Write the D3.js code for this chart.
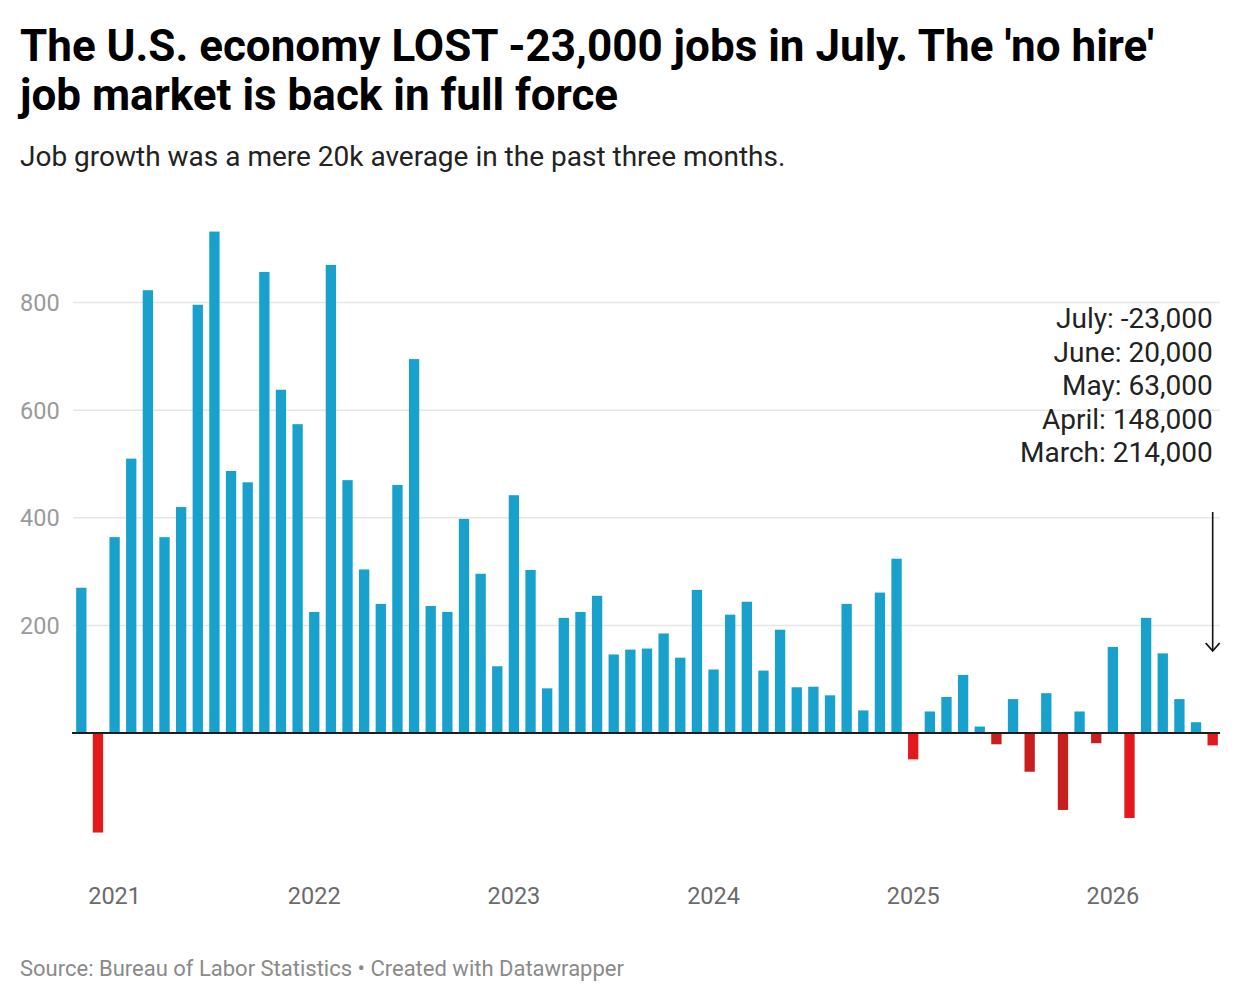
<!DOCTYPE html>
<html>
<head>
<meta charset="utf-8">
<script src="https://cdn.jsdelivr.net/npm/d3@7"></script>
<style>
  body { margin: 0; background: #fff; font-family: Roboto, "Noto Sans", sans-serif; }
  svg text { font-family: Roboto, "Noto Sans", sans-serif; }
</style>
</head>
<body>
<div id="chart"></div>
<script>
// monthly change in payrolls, thousands (Nov 2020 .. Jul 2026)
var months = [
    "2020-11", "2020-12",
    "2021-01", "2021-02", "2021-03", "2021-04", "2021-05", "2021-06",
    "2021-07", "2021-08", "2021-09", "2021-10", "2021-11", "2021-12",
    "2022-01", "2022-02", "2022-03", "2022-04", "2022-05", "2022-06",
    "2022-07", "2022-08", "2022-09", "2022-10", "2022-11", "2022-12",
    "2023-01", "2023-02", "2023-03", "2023-04", "2023-05", "2023-06",
    "2023-07", "2023-08", "2023-09", "2023-10", "2023-11", "2023-12",
    "2024-01", "2024-02", "2024-03", "2024-04", "2024-05", "2024-06",
    "2024-07", "2024-08", "2024-09", "2024-10", "2024-11", "2024-12",
    "2025-01", "2025-02", "2025-03", "2025-04", "2025-05", "2025-06",
    "2025-07", "2025-08", "2025-09", "2025-10", "2025-11", "2025-12",
    "2026-01", "2026-02", "2026-03", "2026-04", "2026-05", "2026-06",
    "2026-07"
];

var jobs = [
    270, -185,
    364, 510, 823, 364, 420, 796, 932, 487, 466, 857, 638, 574,
    225, 870, 470, 304, 240, 461, 695, 236, 225, 398, 296, 124,
    442, 303, 83, 214, 225, 255, 146, 155, 157, 185, 140, 266,
    118, 220, 244, 116, 192, 85, 86, 70, 240, 42, 261, 324,
    -49, 40, 67, 108, 12, -21, 63, -72, 74, -143, 40, -19,
    160, -158, 214, 148, 63, 20, -23
];

// months drawn in the darker red
var darkMonths = ["2025-06", "2025-08", "2025-10", "2025-12"];

var yTicks = [200, 400, 600, 800];
var yearTicks = ["2021-01", "2022-01", "2023-01", "2024-01", "2025-01", "2026-01"];

var notes = [
    "July: -23,000",
    "June: 20,000",
    "May: 63,000",
    "April: 148,000",
    "March: 214,000"
];

var data = months.map(function (m, i) { return {month: m, value: jobs[i]}; });

var width = 1240,
    height = 1002,
    left = 73,
    right = 1221;

var svg = d3.select('#chart')
    .append('svg')
    .attr('width', width)
    .attr('height', height);

// title block
svg.append('text')
    .attr('x', 20).attr('y', 61)
    .attr('font-size', 44).attr('font-weight', 700).attr('fill', '#000')
    .text("The U.S. economy LOST -23,000 jobs in July. The 'no hire'");
svg.append('text')
    .attr('x', 20).attr('y', 110)
    .attr('font-size', 44).attr('font-weight', 700).attr('fill', '#000')
    .text("job market is back in full force");
svg.append('text')
    .attr('x', 20).attr('y', 166)
    .attr('font-size', 28).attr('fill', '#222')
    .text("Job growth was a mere 20k average in the past three months.");

var x = d3.scaleBand()
    .domain(months)
    .range([left, right])
    .paddingInner(0.38)
    .paddingOuter(0.19);

var y = d3.scaleLinear()
    .domain([-200, 1000])
    .range([840.6, 195]);

// gridlines + y labels
var grid = svg.append('g');
grid.selectAll('line')
    .data(yTicks)
    .enter()
    .append('line')
    .attr('x1', left)
    .attr('x2', right - 1)
    .attr('y1', function (d) { return y(d); })
    .attr('y2', function (d) { return y(d); })
    .attr('stroke', '#e6e6e6')
    .attr('stroke-width', 1.5);
grid.selectAll('text')
    .data(yTicks)
    .enter()
    .append('text')
    .attr('x', 20)
    .attr('y', function (d) { return y(d) + 8.5; })
    .attr('font-size', 23.5)
    .attr('fill', '#9a9a9a')
    .text(function (d) { return d; });

// bars
svg.append('g')
    .selectAll('rect')
    .data(data)
    .enter()
    .append('rect')
    .attr('x', function (d) { return x(d.month); })
    .attr('width', x.bandwidth())
    .attr('y', function (d) { return y(Math.max(0, d.value)); })
    .attr('height', function (d) { return Math.abs(y(d.value) - y(0)); })
    .attr('fill', function (d) {
        if (d.value >= 0) return '#18a1cd';
        return darkMonths.indexOf(d.month) >= 0 ? '#c81e1e' : '#e3191c';
    });

// zero line
svg.append('line')
    .attr('x1', left - 1).attr('x2', right - 1)
    .attr('y1', y(0)).attr('y2', y(0))
    .attr('stroke', '#1d1d1d')
    .attr('stroke-width', 2);

// x axis years
svg.append('g')
    .selectAll('text')
    .data(yearTicks)
    .enter()
    .append('text')
    .attr('x', function (d) { return x(d) + x.bandwidth() / 2; })
    .attr('y', 904)
    .attr('text-anchor', 'middle')
    .attr('font-size', 23.5)
    .attr('fill', '#6b6b6b')
    .text(function (d) { return d.slice(0, 4); });

// annotation
var noteX = x(months[months.length - 1]) + x.bandwidth() / 2;
svg.append('g')
    .selectAll('text')
    .data(notes)
    .enter()
    .append('text')
    .attr('x', noteX)
    .attr('y', function (d, i) { return 328 + i * 33.6; })
    .attr('text-anchor', 'end')
    .attr('font-size', 28)
    .attr('fill', '#222')
    .text(function (d) { return d; });

var arrowTop = 512, arrowTip = 651;
svg.append('line')
    .attr('x1', noteX).attr('x2', noteX)
    .attr('y1', arrowTop).attr('y2', arrowTip - 1)
    .attr('stroke', '#111')
    .attr('stroke-width', 1.6);
svg.append('path')
    .attr('d', 'M' + (noteX - 7) + ',' + (arrowTip - 8) + 'L' + noteX + ',' + arrowTip + 'L' + (noteX + 7) + ',' + (arrowTip - 8))
    .attr('fill', 'none')
    .attr('stroke', '#111')
    .attr('stroke-width', 1.8);

// footer
svg.append('text')
    .attr('x', 20).attr('y', 976)
    .attr('font-size', 22)
    .attr('fill', '#8a8a8a')
    .text("Source: Bureau of Labor Statistics \u2022 Created with Datawrapper");
</script>
</body>
</html>
